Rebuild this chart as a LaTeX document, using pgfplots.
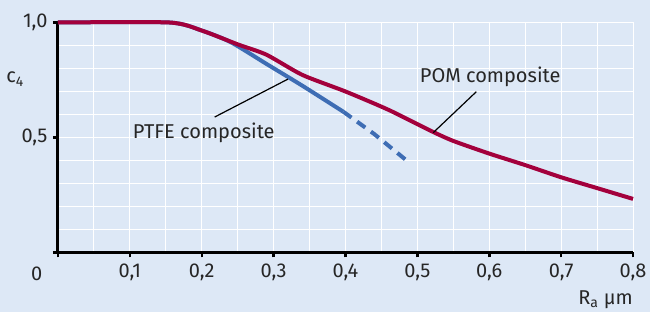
\documentclass[border=0pt]{standalone}
\usepackage{pgfplots}
\pgfplotsset{compat=1.18}
\usepackage{fontspec}
\setmainfont{Fira Sans}
\definecolor{bg}{RGB}{221,232,246}
\definecolor{pom}{RGB}{163,0,60}
\definecolor{ptfe}{RGB}{62,109,180}
\newcommand{\lblfont}{\fontsize{20}{23}\selectfont}
\begin{document}
\begin{tikzpicture}
\fill[bg] (-58pt,-59.5pt) rectangle (592pt,252.5pt);
\useasboundingbox (-58pt,-59.5pt) rectangle (592pt,252.5pt);
\begin{axis}[
  at={(0pt,0pt)}, anchor=south west,
  scale only axis, width=575pt, height=230pt,
  xmin=0, xmax=0.8, ymin=0, ymax=1,
  axis x line*=bottom, axis y line*=left,
  axis line style={line width=3pt, black},
  xtick={0,0.1,0.2,0.3,0.4,0.5,0.6,0.7,0.8},
  xticklabels={,0{,}1,0{,}2,0{,}3,0{,}4,0{,}5,0{,}6,0{,}7,0{,}8},
  ytick={0,0.5,1},
  yticklabels={,0{,}5,1{,}0},
  minor xtick={0.05,0.15,0.25,0.35,0.45,0.55,0.65,0.75},
  minor ytick={0.1,0.2,0.3,0.4,0.6,0.7,0.8,0.9},
  grid=both,
  major grid style={white, line width=1pt},
  minor grid style={white, line width=1pt},
  tick align=outside,
  major tick length=5pt, minor tick length=0pt,
  major tick style={black, line width=2.5pt},
  minor tick style={draw=none},
  ticklabel style={font=\lblfont, text=black!85},
  xticklabel style={yshift=-3pt},
  yticklabel style={xshift=-2pt},
  clip=false,
]
\addplot[ptfe, line width=4pt, smooth, tension=0.4] coordinates {
  (0,1) (0.155,1) (0.2,0.965) (0.24,0.915) (0.29,0.82) (0.34,0.725) (0.397,0.612)
};
\addplot[ptfe, line width=4pt, dash pattern=on 10pt off 7pt] coordinates {
  (0.397,0.612) (0.44,0.515) (0.487,0.395)
};
\addplot[pom, line width=4pt, smooth, tension=0.4] coordinates {
  (0,1) (0.155,1) (0.2,0.965) (0.25,0.905) (0.29,0.86) (0.34,0.772) (0.4,0.70)
  (0.46,0.62) (0.52,0.527) (0.55,0.485) (0.6,0.43) (0.65,0.38) (0.7,0.327)
  (0.75,0.28) (0.8,0.233)
};
\draw[black, line width=1.2pt] (axis cs:0.218,0.589) -- (axis cs:0.32,0.754);
\draw[black, line width=1.2pt] (axis cs:0.582,0.699) -- (axis cs:0.522,0.521);
\node[font=\lblfont, text=black!85, anchor=base west, inner sep=0pt] at (axis cs:0.104,0.4965) {PTFE composite};
\node[font=\lblfont, text=black!85, anchor=base west, inner sep=0pt] at (axis cs:0.5033,0.74) {POM composite};
\node[font=\lblfont, text=black!85] at (axis cs:-0.0598,0.754) {c\textsubscript{4}};
\node[font=\lblfont, text=black!85, anchor=base east, inner sep=0pt] at (axis cs:0.8,-0.226) {R\textsubscript{a} µm};
\node[font=\lblfont, text=black!85] at (axis cs:-0.0297,-0.0935) {0};
\end{axis}
\end{tikzpicture}
\end{document}
